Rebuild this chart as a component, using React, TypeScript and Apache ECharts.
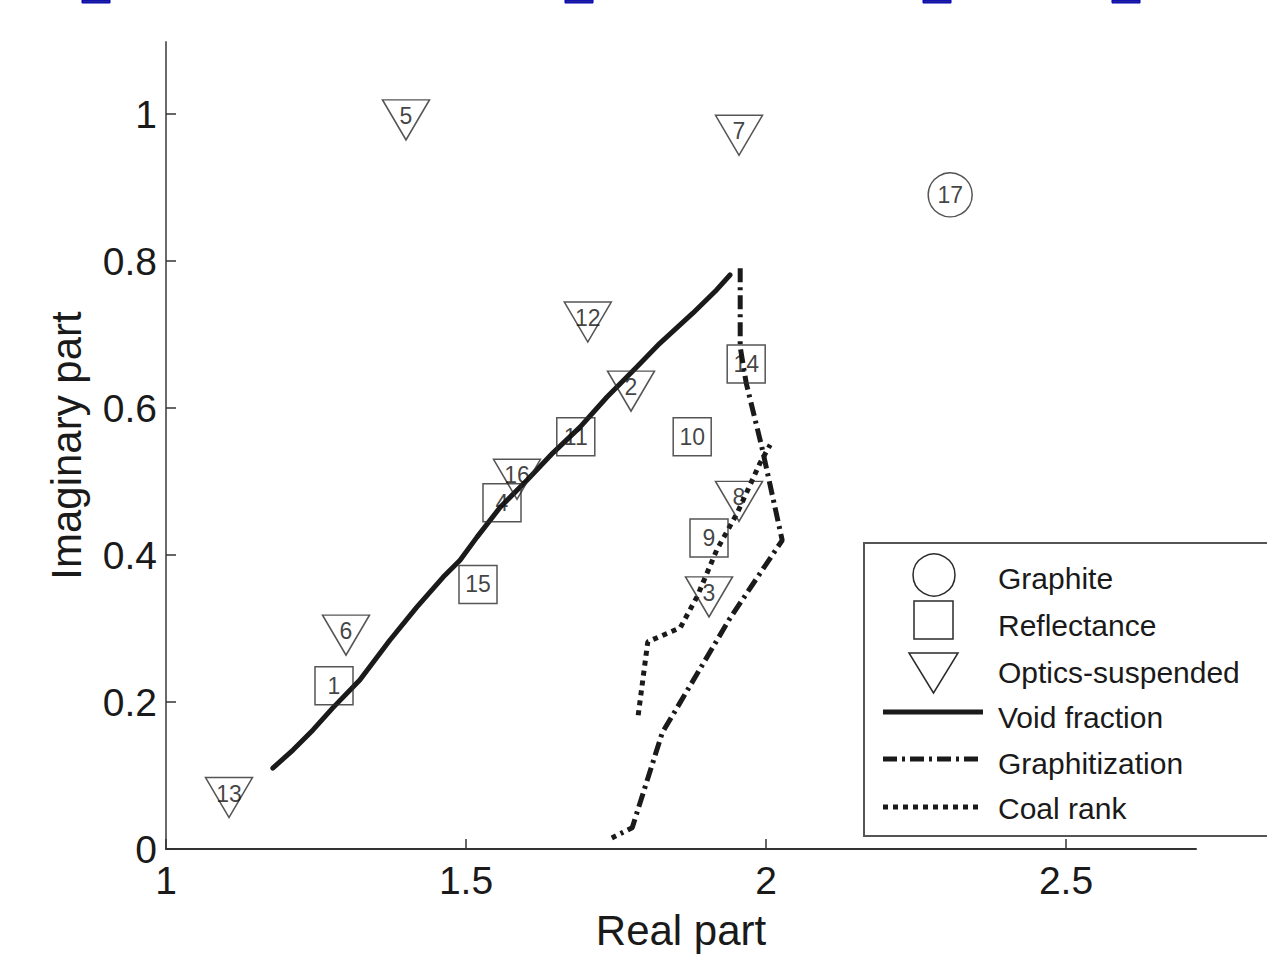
import React, { useEffect, useRef } from "react";
import * as echarts from "echarts";

// ---- data ----
const voidX = [1.178, 1.212, 1.245, 1.278, 1.323, 1.373, 1.418, 1.462, 1.49, 1.518, 1.557, 1.602, 1.645, 1.69, 1.735, 1.785, 1.823, 1.878, 1.918, 1.94];
const voidY = [0.11, 0.135, 0.162, 0.192, 0.23, 0.284, 0.329, 0.37, 0.393, 0.424, 0.465, 0.502, 0.539, 0.574, 0.615, 0.656, 0.688, 0.729, 0.761, 0.781];

const graphX = [1.957, 1.957, 1.967, 1.993, 2.027, 1.94, 1.827, 1.777, 1.743];
const graphY = [0.79, 0.683, 0.634, 0.547, 0.42, 0.314, 0.158, 0.029, 0.015];

const coalX = [1.787, 1.803, 1.857, 1.885, 1.918, 1.952, 1.99, 2.007];
const coalY = [0.182, 0.282, 0.301, 0.343, 0.407, 0.457, 0.525, 0.55];

const opticsLabels = ["5", "7", "12", "2", "16", "6", "13", "8", "3"];
const opticsX = [1.4, 1.955, 1.703, 1.775, 1.585, 1.3, 1.105, 1.955, 1.905];
const opticsY = [0.992, 0.971, 0.717, 0.623, 0.503, 0.291, 0.07, 0.473, 0.343];

const reflLabels = ["14", "10", "11", "9", "4", "15", "1"];
const reflX = [1.967, 1.877, 1.683, 1.905, 1.56, 1.52, 1.28];
const reflY = [0.66, 0.561, 0.561, 0.423, 0.471, 0.36, 0.222];

const graphiteLabels = ["17"];
const graphiteX = [2.307];
const graphiteY = [0.89];

const xTicks = [1, 1.5, 2, 2.5];
const yTicks = [0, 0.2, 0.4, 0.6, 0.8, 1];

const legendNames = ["Graphite", "Reflectance", "Optics-suspended", "Void fraction", "Graphitization", "Coal rank"];

const FONT = "'Liberation Sans', Arial, Helvetica, sans-serif";
const INK = "#1a1a1a";

function pairs(xs: number[], ys: number[]) {
  return xs.map((x, i) => [x, ys[i]]);
}
function named(xs: number[], ys: number[], labels: string[]) {
  return xs.map((x, i) => ({ value: [x, ys[i]], name: labels[i] }));
}

const markerLabel = (offsetY: number) => ({
  show: true,
  position: "inside",
  formatter: "{b}",
  fontFamily: FONT,
  fontSize: 23,
  color: "#111",
  offset: [0, offsetY],
});

const markerStyle = { color: "rgba(0,0,0,0)", borderColor: "#2a2a2a", borderWidth: 1.5 };

export default function App() {
  const ref = useRef<HTMLDivElement>(null);
  useEffect(() => {
    const chart = echarts.init(ref.current!, null, { renderer: "svg" });
    const legendTextY = [578, 625, 672, 717, 763, 808];
    const option: any = {
      animation: false,
      backgroundColor: "#fff",
      grid: { left: 166, top: 42, width: 1030, height: 807 },
      xAxis: {
        type: "value",
        min: 1,
        max: 1 + 1030 / 600,
        interval: 0.5,
        name: "Real part",
        nameLocation: "middle",
        nameGap: 60,
        nameTextStyle: { fontFamily: FONT, fontSize: 42, color: INK },
        axisLine: { show: true, onZero: false, lineStyle: { color: "#333", width: 2 } },
        axisTick: { show: true, inside: true, length: 10, customValues: xTicks, lineStyle: { color: "#333", width: 1.5 } },
        axisLabel: { customValues: xTicks, fontFamily: FONT, fontSize: 39, color: INK, margin: 12 },
        splitLine: { show: false },
      },
      yAxis: {
        type: "value",
        min: 0,
        max: 807 / 735,
        interval: 0.2,
        name: "Imaginary part",
        nameLocation: "middle",
        nameRotate: 90,
        nameGap: 79,
        nameTextStyle: { fontFamily: FONT, fontSize: 42, color: INK },
        axisLine: { show: true, onZero: false, lineStyle: { color: "#6a6a6a", width: 2 } },
        axisTick: { show: true, inside: true, length: 10, customValues: yTicks, lineStyle: { color: "#333", width: 1.5 } },
        axisLabel: { customValues: yTicks, fontFamily: FONT, fontSize: 39, color: INK, margin: 9 },
        splitLine: { show: false },
      },
      series: [
        {
          name: legendNames[3],
          type: "line",
          data: pairs(voidX, voidY),
          showSymbol: false,
          symbol: "none",
          lineStyle: { color: INK, width: 5, join: "round", cap: "round" },
          z: 3,
        },
        {
          name: legendNames[4],
          type: "line",
          data: pairs(graphX, graphY),
          showSymbol: false,
          symbol: "none",
          lineStyle: { color: INK, width: 5, type: [14, 5, 3, 5] },
          z: 3,
        },
        {
          name: legendNames[5],
          type: "line",
          data: pairs(coalX, coalY),
          showSymbol: false,
          symbol: "none",
          lineStyle: { color: INK, width: 5, type: [5, 5] },
          z: 3,
        },
        {
          name: legendNames[0],
          type: "scatter",
          symbol: "circle",
          symbolSize: 44,
          data: named(graphiteX, graphiteY, graphiteLabels),
          itemStyle: markerStyle,
          label: markerLabel(0),
          z: 4,
        },
        {
          name: legendNames[1],
          type: "scatter",
          symbol: "rect",
          symbolSize: [38, 38],
          data: named(reflX, reflY, reflLabels),
          itemStyle: markerStyle,
          label: markerLabel(0),
          z: 4,
        },
        {
          name: legendNames[2],
          type: "scatter",
          symbol: "triangle",
          symbolRotate: 180,
          symbolSize: [47, 40],
          data: named(opticsX, opticsY, opticsLabels),
          itemStyle: markerStyle,
          label: markerLabel(-4),
          z: 4,
        },
      ],
      graphic: [
        // cut-off hyperlink marks at the very top
        ...[82, 565, 923, 1112].map((x) => ({
          type: "rect",
          shape: { x, y: 0, width: 28, height: 3 },
          style: { fill: "#23239a", stroke: "#0000c0", lineWidth: 1 },
        })),
        // legend box
        {
          type: "rect",
          shape: { x: 864, y: 543, width: 410, height: 293 },
          style: { fill: "#fff", stroke: "#555", lineWidth: 2 },
          z: 10,
        },
        {
          type: "circle",
          shape: { cx: 934, cy: 575, r: 21 },
          style: { fill: "none", stroke: "#2a2a2a", lineWidth: 1.5 },
          z: 11,
        },
        {
          type: "rect",
          shape: { x: 914, y: 601, width: 39, height: 38 },
          style: { fill: "none", stroke: "#2a2a2a", lineWidth: 1.5 },
          z: 11,
        },
        {
          type: "polygon",
          shape: { points: [[909, 653], [958, 653], [933.5, 693]] },
          style: { fill: "none", stroke: "#2a2a2a", lineWidth: 1.5 },
          z: 11,
        },
        {
          type: "line",
          shape: { x1: 883, y1: 712, x2: 983, y2: 712 },
          style: { stroke: INK, lineWidth: 5 },
          z: 11,
        },
        {
          type: "line",
          shape: { x1: 883, y1: 759, x2: 983, y2: 759 },
          style: { stroke: INK, lineWidth: 5, lineDash: [14, 5, 3, 5] },
          z: 11,
        },
        {
          type: "line",
          shape: { x1: 883, y1: 807, x2: 983, y2: 807 },
          style: { stroke: INK, lineWidth: 5, lineDash: [5, 5] },
          z: 11,
        },
        ...legendNames.map((n, i) => ({
          type: "text",
          x: 998,
          y: legendTextY[i],
          style: { text: n, fontFamily: FONT, fontSize: 30, fill: INK, textVerticalAlign: "middle", textAlign: "left" },
          z: 11,
        })),
      ],
    };
    chart.setOption(option);
    return () => chart.dispose();
  }, []);
  return <div ref={ref} style={{ position: "absolute", left: 0, top: 0, width: 1267, height: 963 }} />;
}
